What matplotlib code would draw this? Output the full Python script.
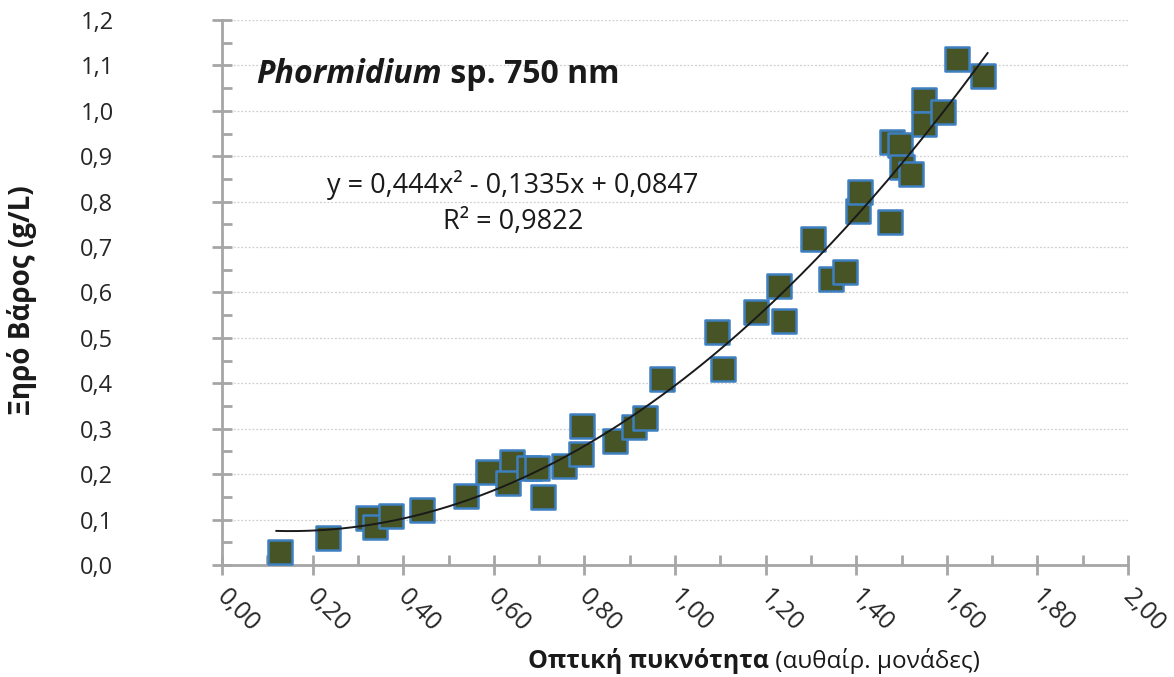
import matplotlib
matplotlib.use("Agg")
import matplotlib.pyplot as plt
import matplotlib.transforms as mtransforms
import numpy as np
from matplotlib.ticker import MultipleLocator, FuncFormatter

plt.rcParams['font.family'] = ['Open Sans', 'DejaVu Sans']

# Data
od = [0.128, 0.234, 0.322, 0.338, 0.373, 0.442, 0.539, 0.587, 0.640, 0.631,
      0.678, 0.695, 0.709, 0.755, 0.792, 0.795, 0.868, 0.909, 0.934, 0.971,
      1.093, 1.106, 1.179, 1.230, 1.241, 1.305, 1.344, 1.375, 1.404, 1.408,
      1.475, 1.479, 1.497, 1.501, 1.521, 1.550, 1.550, 1.592, 1.623, 1.680]
dry_weight = [0.029, 0.059, 0.104, 0.084, 0.108, 0.121, 0.152, 0.205, 0.227, 0.181,
              0.214, 0.214, 0.150, 0.218, 0.244, 0.306, 0.273, 0.304, 0.324, 0.410,
              0.513, 0.432, 0.557, 0.615, 0.537, 0.718, 0.630, 0.645, 0.780, 0.822,
              0.755, 0.932, 0.925, 0.877, 0.861, 1.024, 0.971, 0.998, 1.115, 1.077]
# Trendline coefficients (from the chart's equation)
coef_a, coef_b, coef_c = 0.444, -0.1335, 0.0847
fit_range = (0.12, 1.69)

title_italic = "Phormidium"
title_rest = " sp. 750 nm"
eq_text = "y = 0,444x² - 0,1335x + 0,0847"
r2_text = "R² = 0,9822"
ylabel = "Ξηρό Βάρος (g/L)"
xlabel_bold = "Οπτική πυκνότητα"
xlabel_rest = " (αυθαίρ. μονάδες)"

fig = plt.figure(figsize=(11.74, 6.77), dpi=100)
ax = fig.add_axes([222/1174, 1-565/677, (1128-222)/1174, (565-20)/677])

axis_col = '#a6a6a6'
ax.set_xlim(0, 2.0)
ax.set_ylim(0, 1.2)

ax.yaxis.set_major_locator(MultipleLocator(0.1))
ax.yaxis.set_minor_locator(MultipleLocator(0.05))
ax.xaxis.set_major_locator(MultipleLocator(0.2))
ax.xaxis.set_minor_locator(MultipleLocator(0.1))
ax.grid(axis='y', which='major', color='#cfcfcf', linestyle=(0, (1.5, 1.5)), linewidth=0.9)
ax.set_axisbelow(True)

for s in ['top', 'right']:
    ax.spines[s].set_visible(False)
for s in ['left', 'bottom']:
    ax.spines[s].set_color(axis_col)
    ax.spines[s].set_linewidth(2)

ax.tick_params(axis='both', which='major', direction='inout', length=14, width=2, color=axis_col)
ax.tick_params(axis='both', which='minor', direction='in', length=7, width=2, color=axis_col)
ax.tick_params(axis='y', which='major', labelsize=17, pad=95, labelcolor='#262626')
ax.tick_params(axis='x', which='major', labelsize=18, pad=7, labelcolor='#262626')

ax.yaxis.set_major_formatter(FuncFormatter(lambda v, p: f"{v:.1f}".replace('.', ',')))
ax.xaxis.set_major_formatter(FuncFormatter(lambda v, p: f"{v:.2f}".replace('.', ',')))
for lab in ax.get_yticklabels():
    lab.set_horizontalalignment('left')
offset = mtransforms.ScaledTranslation(5/72, 0, fig.dpi_scale_trans)
for lab in ax.get_xticklabels():
    lab.set_rotation(-45)
    lab.set_horizontalalignment('left')
    lab.set_verticalalignment('top')
    lab.set_rotation_mode('anchor')
    lab.set_transform(lab.get_transform() + offset)

# trendline
xs = np.linspace(fit_range[0], fit_range[1], 200)
ax.plot(xs, coef_a*xs**2 + coef_b*xs + coef_c, color='#1a1a1a', linewidth=1.4, zorder=4)

# points
ax.scatter(od, dry_weight, marker='s', s=300, facecolor='#475425',
           edgecolor='#3d7fc0', linewidths=1.8, zorder=3, clip_on=False)

# title
t1 = ax.text(256/1174, 1-83/677, title_italic, transform=fig.transFigure,
             fontsize=23, fontweight='bold', fontstyle='italic', color='#1a1a1a',
             va='baseline', ha='left')
ax.annotate(title_rest, xy=(1, 0), xycoords=t1, fontsize=23, fontweight='bold',
            color='#1a1a1a', va='bottom', ha='left')

# equation
fig.text(513/1174, 1-185/677, eq_text, fontsize=19.5, ha='center', va='center', color='#1a1a1a')
fig.text(513/1174, 1-222/677, r2_text, fontsize=19.5, ha='center', va='center', color='#1a1a1a')

# y label
fig.text(22/1174, 1-300/677, ylabel, rotation=90, fontsize=20, fontweight='bold',
         ha='center', va='center', color='#1a1a1a')

# x label
xl = fig.text(528/1174, 1-668/677, xlabel_bold, fontsize=18, fontweight='bold',
              ha='left', va='baseline', color='#1a1a1a')
ax.annotate(xlabel_rest, xy=(1, 0), xycoords=xl, fontsize=17.5, color='#1a1a1a',
            va='bottom', ha='left')

fig.savefig('out.png', dpi=100)
